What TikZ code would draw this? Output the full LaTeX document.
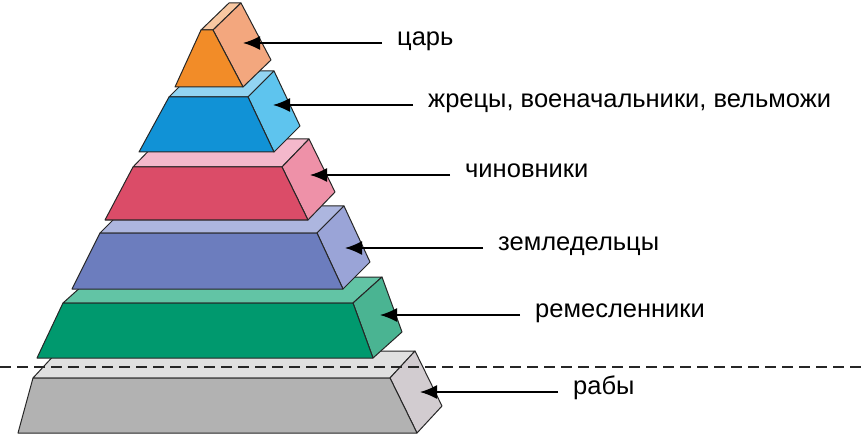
\documentclass[tikz,border=0pt]{standalone}
\usepackage{fontspec}
\setmainfont{Liberation Sans}
\usepackage{xcolor}
\usepackage{tikz}
\usetikzlibrary{arrows.meta}

\definecolor{orFront}{HTML}{F28C28}
\definecolor{orTop}{HTML}{F8C8A2}
\definecolor{orSide}{HTML}{F3A77E}
\definecolor{bluFront}{HTML}{1192D6}
\definecolor{bluTop}{HTML}{92D4F2}
\definecolor{bluSide}{HTML}{5EC4EE}
\definecolor{redFront}{HTML}{DB4C68}
\definecolor{redTop}{HTML}{F4B8CB}
\definecolor{redSide}{HTML}{EE91A8}
\definecolor{purFront}{HTML}{6C7DBE}
\definecolor{purTop}{HTML}{ADB6DF}
\definecolor{purSide}{HTML}{9AA4D7}
\definecolor{grnFront}{HTML}{00996E}
\definecolor{grnTop}{HTML}{62C4A5}
\definecolor{grnSide}{HTML}{4AB492}
\definecolor{grFront}{HTML}{B2B2B2}
\definecolor{grTop}{HTML}{E0E0E0}
\definecolor{grSide}{HTML}{D2CCD0}

\begin{document}
\begin{tikzpicture}[x=1pt,y=-1pt]
	\tikzstyle{slab}=[draw=black!85, line width=1pt, line join=round]
	\tikzstyle{lbl}=[anchor=west, inner xsep=15pt, inner ysep=0pt, text height=1ex, text depth=0pt, font=\fontsize{25.5}{30}\selectfont]
	\tikzstyle{ptr}=[line width=1.6pt, -{Latex[length=17pt,width=14pt]}]
	\useasboundingbox (0,0) rectangle (866,438);
	% rabs
	\filldraw [slab, fill=grTop] (33,378) -- (390,378) -- (415,351) -- (58,351) -- cycle;
	\filldraw [slab, fill=grSide] (390,378) -- (417,433) -- (442,406) -- (415,351) -- cycle;
	\filldraw [slab, fill=grFront] (18,433) -- (417,433) -- (390,378) -- (33,378) -- cycle;
	% craftsmen
	\filldraw [slab, fill=grnTop] (63,303) -- (353,303) -- (382,277) -- (92,277) -- cycle;
	\filldraw [slab, fill=grnSide] (353,303) -- (373,358) -- (402,332) -- (382,277) -- cycle;
	\filldraw [slab, fill=grnFront] (37,358) -- (373,358) -- (353,303) -- (63,303) -- cycle;
	% farmers
	\filldraw [slab, fill=purTop] (100,233) -- (317,233) -- (344,206) -- (127,206) -- cycle;
	\filldraw [slab, fill=purSide] (317,233) -- (343,289) -- (370,262) -- (344,206) -- cycle;
	\filldraw [slab, fill=purFront] (72,289) -- (343,289) -- (317,233) -- (100,233) -- cycle;
	% officials
	\filldraw [slab, fill=redTop] (133,167) -- (282,167) -- (309,139) -- (160,139) -- cycle;
	\filldraw [slab, fill=redSide] (282,167) -- (308,220) -- (335,192) -- (309,139) -- cycle;
	\filldraw [slab, fill=redFront] (105,220) -- (308,220) -- (282,167) -- (133,167) -- cycle;
	% priests
	\filldraw [slab, fill=bluTop] (169,97) -- (248,97) -- (274,71) -- (195,71) -- cycle;
	\filldraw [slab, fill=bluSide] (248,97) -- (274,152) -- (300,126) -- (274,71) -- cycle;
	\filldraw [slab, fill=bluFront] (139,152) -- (274,152) -- (248,97) -- (169,97) -- cycle;
	% king
	\filldraw [slab, fill=orTop] (201,30) -- (213,30) -- (241,3) -- (229,3) -- cycle;
	\filldraw [slab, fill=orSide] (213,30) -- (243,87) -- (271,60) -- (241,3) -- cycle;
	\filldraw [slab, fill=orFront] (175,87) -- (243,87) -- (213,30) -- (201,30) -- cycle;
	% border of the free
	\draw [black!85, line width=1.6pt, dash pattern=on 11pt off 6pt] (0,367) -- (866,367);
	% labels
	\coordinate (kingTip) at (243,43);
	\coordinate (priestTip) at (273,105);
	\coordinate (officialTip) at (310,175);
	\coordinate (farmerTip) at (345,248);
	\coordinate (craftTip) at (380,315);
	\coordinate (slaveTip) at (420,392);
	\node [lbl] (king) at (382,43) {царь};
	\node [lbl] (priest) at (413,105) {жрецы, военачальники, вельможи};
	\node [lbl] (official) at (450,175) {чиновники};
	\node [lbl] (farmer) at (483,248) {земледельцы};
	\node [lbl] (craft) at (520,315) {ремесленники};
	\node [lbl] (slave) at (558,392) {рабы};
	\draw [ptr] (king.west) -- (kingTip);
	\draw [ptr] (priest.west) -- (priestTip);
	\draw [ptr] (official.west) -- (officialTip);
	\draw [ptr] (farmer.west) -- (farmerTip);
	\draw [ptr] (craft.west) -- (craftTip);
	\draw [ptr] (slave.west) -- (slaveTip);
\end{tikzpicture}
\end{document}
